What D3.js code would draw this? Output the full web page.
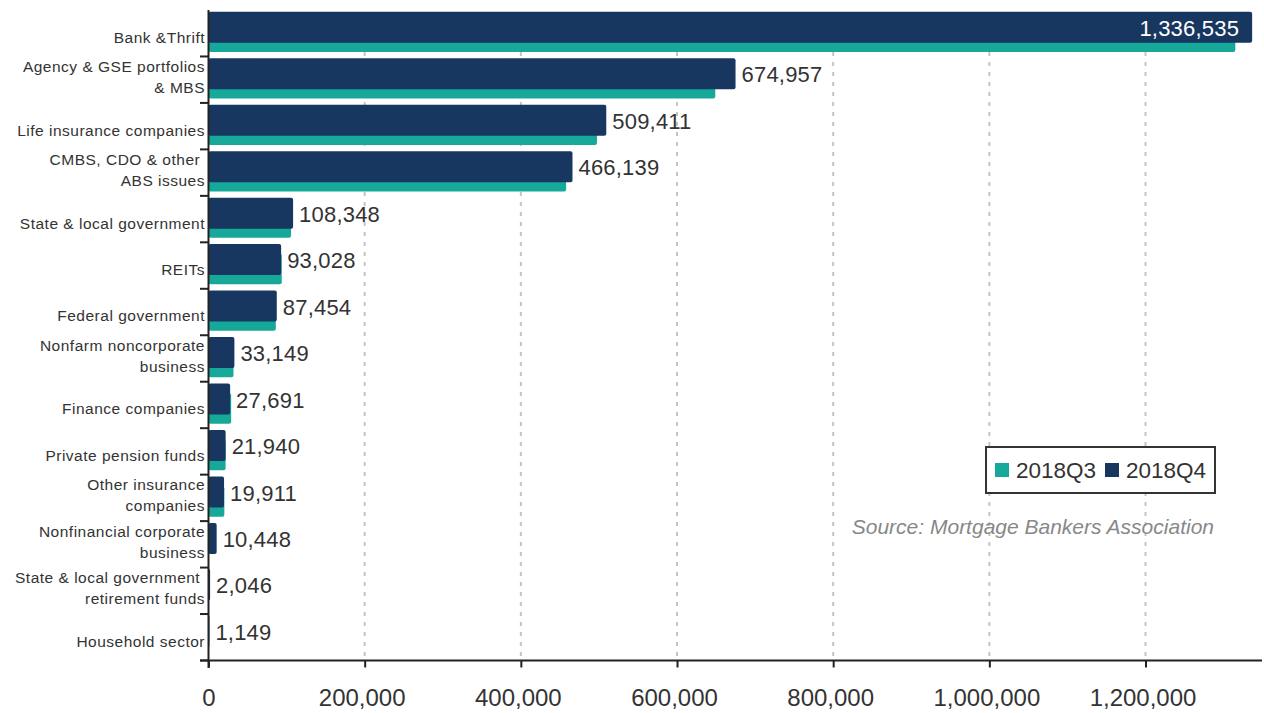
<!DOCTYPE html>
<html><head><meta charset="utf-8">
<script src="https://cdn.jsdelivr.net/npm/d3@7"></script>
<style>
html,body{margin:0;padding:0;background:#fff;}
svg{display:block;}
text{font-family:"Liberation Sans","Helvetica Neue",Arial,sans-serif;}
</style></head>
<body><svg id="c" width="1264" height="713"></svg>
<script>
const categories = [
  "Bank &Thrift",
  "Agency & GSE portfolios\n& MBS",
  "Life insurance companies",
  "CMBS, CDO & other \nABS issues",
  "State & local government",
  "REITs",
  "Federal government",
  "Nonfarm noncorporate\nbusiness",
  "Finance companies",
  "Private pension funds",
  "Other insurance\ncompanies",
  "Nonfinancial corporate\nbusiness",
  "State & local government \nretirement funds",
  "Household sector"
];
const q3Values = [1315000, 649000, 497500, 458000, 105700, 93800, 86200, 32000, 29000, 21900, 20300, null, null, null];
const q4Values = [1336535, 674957, 509411, 466139, 108348, 93028, 87454, 33149, 27691, 21940, 19911, 10448, 2046, 1149];
const seriesNames = ["2018Q3", "2018Q4"];
const xTicks = [0, 200000, 400000, 600000, 800000, 1000000, 1200000];
const sourceText = "Source: Mortgage Bankers Association";

const colors = {q3: "#16a898", q4: "#173660"};
const svg = d3.select("#c");
const x0 = 208.5, xMax = 1350000;
const x = d3.scaleLinear().domain([0, xMax]).range([x0, x0 + xMax * 0.00078085]);
const y = d3.scaleBand().domain(categories).range([10, 660.5]).paddingInner(0).paddingOuter(0);
const bw = y.bandwidth();
const fmt = d3.format(",");

// gridlines
svg.append("g").selectAll("line").data(xTicks.filter(d => d > 0)).join("line")
  .attr("x1", d => x(d)).attr("x2", d => x(d))
  .attr("y1", 12).attr("y2", 660.5)
  .attr("stroke", "#c4c4c4").attr("stroke-width", 2).attr("stroke-dasharray", "4,6");

const data = categories.map((c, i) => ({c, q3: q3Values[i], q4: q4Values[i], i}));

// Q3 bars
svg.append("g").selectAll("rect").data(data.filter(d => d.q3 != null)).join("rect")
  .attr("x", x(0)).attr("y", d => y(d.c) + 11.5)
  .attr("width", d => x(d.q3) - x(0)).attr("height", 30.5)
  .attr("rx", 2).attr("fill", colors.q3);

// Q4 bars
svg.append("g").selectAll("rect").data(data).join("rect")
  .attr("x", x(0)).attr("y", d => y(d.c) + 1.8)
  .attr("width", d => x(d.q4) - x(0)).attr("height", 31)
  .attr("rx", 2).attr("fill", colors.q4);

// value labels
svg.append("g").selectAll("text").data(data).join("text")
  .attr("x", d => d.i === 0 ? x(d.q4) - 13 : x(d.q4) + 6)
  .attr("y", d => y(d.c) + 18)
  .attr("dy", "0.36em")
  .attr("text-anchor", d => d.i === 0 ? "end" : "start")
  .attr("fill", d => d.i === 0 ? "#fff" : "#333")
  .style("font-size", "22px")
  .style("letter-spacing", "0.2px")
  .text(d => fmt(d.q4));

// category labels
const cl = svg.append("g").selectAll("text").data(data).join("text")
  .attr("text-anchor", "end")
  .attr("fill", "#333")
  .style("font-size", "15.5px")
  .style("letter-spacing", "0.5px")
  .style("white-space", "pre");
cl.each(function(d) {
  const lines = d.c.split("\n");
  const t = d3.select(this);
  const cy = y(d.c) + bw / 2;
  if (lines.length === 1) {
    t.append("tspan").attr("x", 205).attr("y", cy + 4).attr("dy", "0.35em").text(lines[0]);
  } else {
    lines.forEach((ln, k) => {
      t.append("tspan").attr("x", 205).attr("y", cy - 13 + k * 21).attr("dy", "0.35em").text(ln);
    });
  }
});

// left axis
svg.append("line").attr("x1", x0).attr("x2", x0).attr("y1", 10).attr("y2", 668)
  .attr("stroke", "#222").attr("stroke-width", 2);
svg.append("g").selectAll("line").data(categories).join("line")
  .attr("x1", 200).attr("x2", x0)
  .attr("y1", d => y(d) + bw).attr("y2", d => y(d) + bw)
  .attr("stroke", "#222").attr("stroke-width", 2);

// bottom axis
const xa = svg.append("g").attr("transform", "translate(0,660.5)")
  .call(d3.axisBottom(x).tickValues(xTicks).tickFormat(fmt).tickSizeOuter(0).tickSizeInner(7).tickPadding(21));
xa.select(".domain").remove();
xa.selectAll(".tick line").attr("stroke", "#222").attr("stroke-width", 2);
xa.selectAll(".tick text").attr("fill", "#333").style("font-size", "24px")
  .attr("dx", d => d === 0 ? 0 : -3)
  .style("font-family", '"Liberation Sans",Arial,sans-serif');
svg.append("line").attr("x1", 200).attr("x2", 1262).attr("y1", 660.5).attr("y2", 660.5)
  .attr("stroke", "#222").attr("stroke-width", 2);

// legend
const lg = svg.append("g");
lg.append("rect").attr("x", 986).attr("y", 447).attr("width", 229).attr("height", 46)
  .attr("fill", "#fff").attr("stroke", "#333").attr("stroke-width", 2);
const items = [{n: seriesNames[0], c: colors.q3, x: 995}, {n: seriesNames[1], c: colors.q4, x: 1105}];
items.forEach(it => {
  lg.append("rect").attr("x", it.x).attr("y", 463).attr("width", 14).attr("height", 14).attr("fill", it.c);
  lg.append("text").attr("x", it.x + 21).attr("y", 470).attr("dy", "0.36em")
    .attr("fill", "#333").style("font-size", "22.5px").text(it.n);
});

// source
svg.append("text").attr("x", 1214).attr("y", 527).attr("dy", "0.35em").attr("text-anchor", "end")
  .attr("fill", "#888").style("font-size", "21px").style("font-style", "italic").text(sourceText);
</script></body></html>
